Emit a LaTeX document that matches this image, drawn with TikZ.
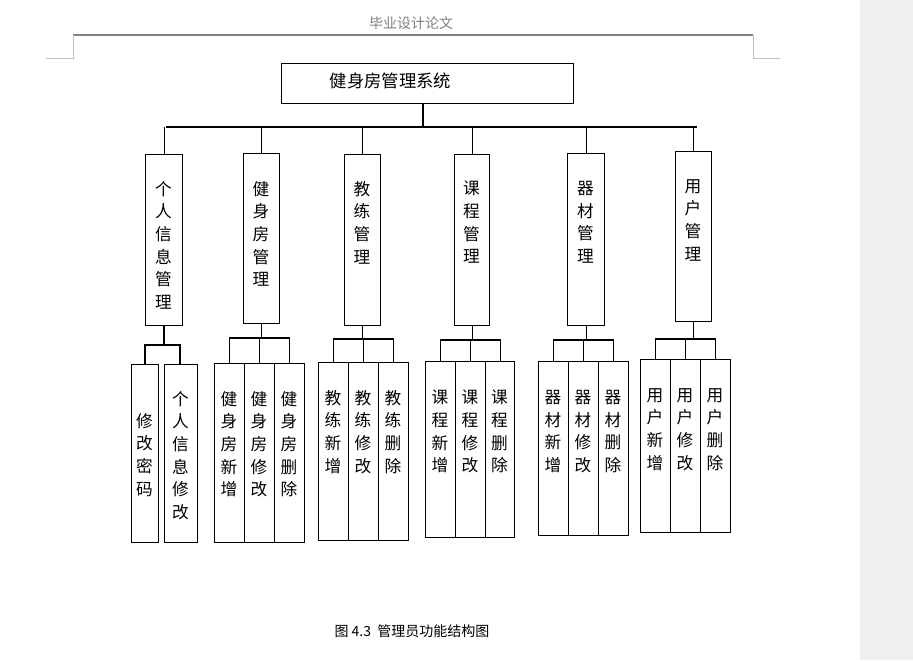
\documentclass[tikz,border=0pt]{standalone}
\usepackage{fontspec}
\setmainfont{Noto Sans CJK SC}
\begin{document}
\begin{tikzpicture}[x=0.75pt,y=-0.75pt,
  box/.style={draw,line width=0.9pt,inner sep=0pt,anchor=north west},
  vt/.style={font=\fontsize{12.5}{17}\selectfont,align=center,inner sep=0pt,anchor=north},
  ln/.style={line width=0.9pt}]
\fill[white] (0,0) rectangle (913,660);
\useasboundingbox (0,0) rectangle (913,660);
\fill[gray!12] (860,0) rectangle (913,660);
% header
\node[gray,font=\fontsize{10.5}{12}\selectfont] (hdr) at (411,23) {毕业设计论文};
\draw[gray,line width=1pt] (73,35) -- (753,35);
\draw[gray!50] (73,35) -- (73,58) -- (46,58) (753,35) -- (753,58) -- (780,58);
\newcommand\bx[7]{%
  \pgfmathsetmacro\ww{(#4-#2)*0.75}\pgfmathsetmacro\hh{(#5-#3)*0.75}%
  \node[box,minimum width=\ww pt,minimum height=\hh pt] (#1) at (#2,#3) {};
  \node[vt] (#1t) at ({(#2+#4)/2},#6) {#7};}
% top
\bx{root}{281}{63}{573}{103}{0}{}
\node[font=\fontsize{13}{15}\selectfont,anchor=west] (roott) at (325,81) {健身房管理系统};
\coordinate (bus) at (423,127);
\draw[ln] (root.south -| bus) -- (bus);
\draw[ln] (166,127) -- (697,127);
% level 2
\bx{a}{145}{154}{182}{325}{181}{个\\人\\信\\息\\管\\理}
\bx{b}{243}{153}{279}{323}{181}{健\\身\\房\\管\\理}
\bx{c}{344}{154}{380}{325}{181}{教\\练\\管\\理}
\bx{d}{454}{154}{489}{325}{181}{课\\程\\管\\理}
\bx{e}{567}{153}{604}{325}{181}{器\\材\\管\\理}
\bx{f}{675}{151}{711}{321}{179}{用\\户\\管\\理}
\foreach \n in {a,b,c,d,e,f}{\draw[ln] (\n.north) -- (\n.north |- bus);}
% level 3
\bx{a1}{131}{364}{158}{542}{413}{修\\改\\密\\码}
\bx{a2}{164}{364}{197}{542}{391}{个\\人\\信\\息\\修\\改}
\bx{b1}{214}{363}{244}{542}{391}{健\\身\\房\\新\\增}
\bx{b2}{244}{363}{274}{542}{391}{健\\身\\房\\修\\改}
\bx{b3}{274}{363}{304}{542}{391}{健\\身\\房\\删\\除}
\bx{c1}{318}{362}{348}{540}{390}{教\\练\\新\\增}
\bx{c2}{348}{362}{378}{540}{390}{教\\练\\修\\改}
\bx{c3}{378}{362}{408}{540}{390}{教\\练\\删\\除}
\bx{d1}{425}{361}{455}{537}{390}{课\\程\\新\\增}
\bx{d2}{455}{361}{485}{537}{390}{课\\程\\修\\改}
\bx{d3}{485}{361}{514}{537}{390}{课\\程\\删\\除}
\bx{e1}{538}{361}{568}{535}{390}{器\\材\\新\\增}
\bx{e2}{568}{361}{598}{535}{390}{器\\材\\修\\改}
\bx{e3}{598}{361}{628}{535}{390}{器\\材\\删\\除}
\bx{f1}{640}{359}{670}{532}{388}{用\\户\\新\\增}
\bx{f2}{670}{359}{700}{532}{388}{用\\户\\修\\改}
\bx{f3}{700}{359}{730}{532}{388}{用\\户\\删\\除}
% connectors
\coordinate (ja) at (164,345);
\draw[ln] (a.south -| ja) -- (ja);
\draw[ln] (a1.north -| 145,0) -- (145,345) -- (180,345) -- (a2.north -| 180,0);
\newcommand\grp[5]{%
  \draw[ln] (#1.south) -- (#1.south |- 0,#5);
  \draw[ln] (#2.north) -- (#2.north |- 0,#5) -- (#4.north |- 0,#5) -- (#4.north);
  \draw[ln] (#3.north) -- (#3.north |- 0,#5);}
\grp{b}{b1}{b2}{b3}{338}
\grp{c}{c1}{c2}{c3}{339}
\grp{d}{d1}{d2}{d3}{340}
\grp{e}{e1}{e2}{e3}{340}
\grp{f}{f1}{f2}{f3}{339}
% caption
\node[font=\fontsize{10.5}{12}\selectfont] (cap) at (412,631) {图 4.3\ \ 管理员功能结构图};
\end{tikzpicture}
\end{document}
